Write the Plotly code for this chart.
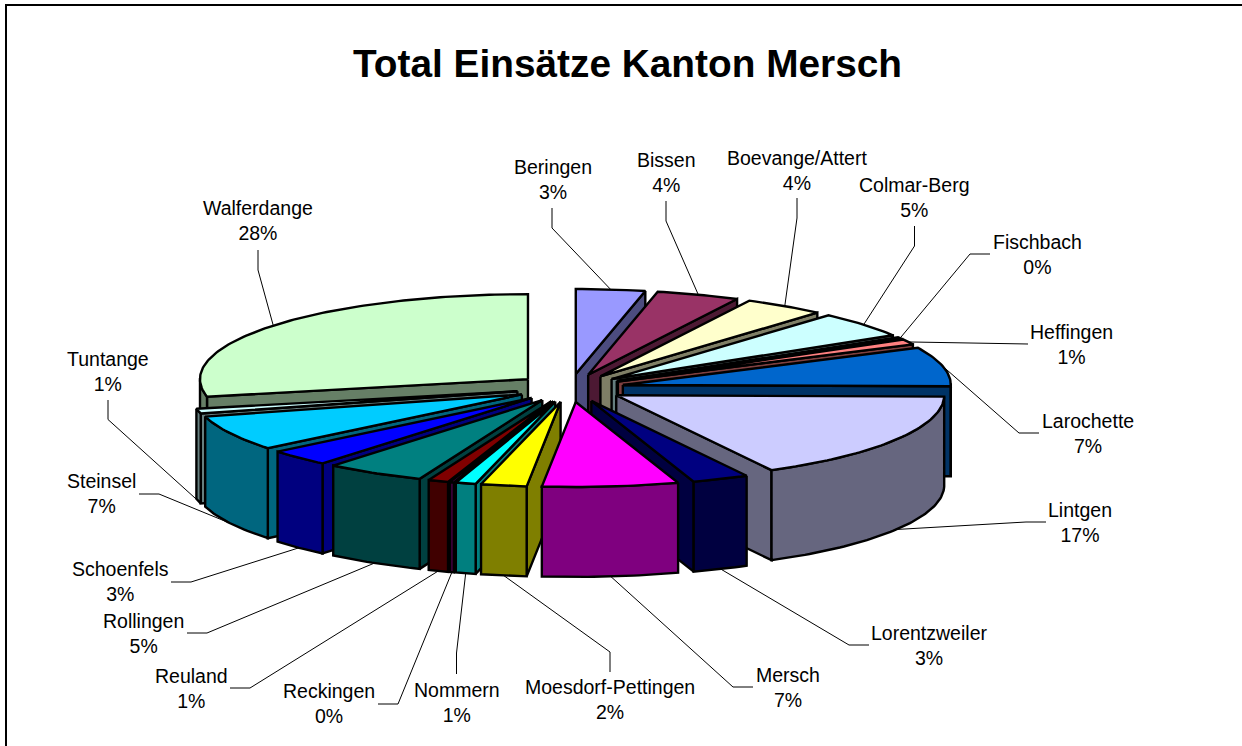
import numpy as np
import plotly.graph_objects as go

names = ["Beringen","Bissen","Boevange/Attert","Colmar-Berg","Fischbach","Heffingen","Larochette","Lintgen",
         "Lorentzweiler","Mersch","Moesdorf-Pettingen","Nommern","Reckingen","Reuland","Rollingen","Schoenfels",
         "Steinsel","Tuntange","Walferdange"]
values = [3.4,4.1,4.0,4.9,0.4,1.0,7.45,16.9,2.8,6.7,2.25,1.0,0.2,1.0,4.9,3.1,6.7,0.9,28.3]
colors = ["#9999FF","#993366","#FFFFCC","#CCFFFF","#660066","#FF8080","#0066CC","#CCCCFF","#000080","#FF00FF",
          "#FFFF00","#00FFFF","#800080","#800000","#008080","#0000FF","#00CCFF","#CCFFFF","#CCFFCC"]
label_x = [552.5,666,796.5,914,1037,1071.5,1088,1079.5,929,787.5,609.5,456.5,329,191,143,120,101.5,108,257.5]
label_y = [179,172,170,197,254,344,433,522,645,687,699,702,703,688,633,581,493,371,220]
end_x = [552,666,797,914.5,990,1028,1039,1046,869,753,610,456.5,378,230,187,171,139,108,258]
end_y = [208,201,198,226,254,344,433,522,645,687,672,674,704,688,633,582,494,400,250]
elbow_x = [552,666,797,914.5,970,1008,1019,1026,849,733,610,456.5,398,250,207,191,159,108,258]
elbow_y = [228,221,218,246,254,344,433,522,645,687,652,653,704,688,633,582,494,419.5,270]

CX, CY, RX, RY, H, EXPL = 570, 388, 328, 85, 90, 0.165
TITLE = "Total Einsätze Kanton Mersch"

def darker(c):
    r, g, b = (int(c[i:i+2], 16) for i in (1, 3, 5))
    return f"rgb({r//2},{g//2},{b//2})"

fig = go.Figure()
def poly(xs, ys, fill):
    fig.add_trace(go.Scatter(x=list(xs)+[xs[0]], y=list(ys)+[ys[0]], mode="lines", fill="toself", fillcolor=fill,
                             line=dict(color="black", width=2.4), hoverinfo="skip", showlegend=False))

total = sum(values)
cum = np.cumsum([0]+values)/total*2*np.pi
mids = (cum[:-1]+cum[1:])/2
order = np.argsort(-np.cos(mids))
for i in order:
    a0, a1, m = cum[i], cum[i+1], mids[i]
    ax = CX+np.sin(m)*EXPL*RX
    ay = CY-np.cos(m)*EXPL*RY
    t = np.linspace(a0, a1, max(3, int((a1-a0)*60)))
    rx = ax+RX*np.sin(t)
    ry = ay-RY*np.cos(t)
    side = darker(colors[i])
    # only the cut faces that turn toward the viewer are drawn
    if np.sin(a0) < -1e-6:
        poly([ax, rx[0], rx[0], ax], [ay, ry[0], ry[0]+H, ay+H], side)
    if np.sin(a1) > 1e-6:
        poly([ax, rx[-1], rx[-1], ax], [ay, ry[-1], ry[-1]+H, ay+H], side)
    front = np.cos(t) < 0.02
    if front.any():
        fx, fy = rx[front], ry[front]
        poly(list(fx)+list(fx[::-1]), list(fy)+list(fy[::-1]+H), side)
    poly([ax]+list(rx), [ay]+list(ry), colors[i])

for i, n in enumerate(names):
    m = mids[i]
    sx = CX+np.sin(m)*(1+EXPL)*RX
    sy = CY-np.cos(m)*(1+EXPL)*RY+(H if np.cos(m) < 0 else 0)
    fig.add_trace(go.Scatter(x=[sx, elbow_x[i], end_x[i]], y=[sy, elbow_y[i], end_y[i]], mode="lines",
                             line=dict(color="black", width=1), hoverinfo="skip", showlegend=False))
    fig.add_annotation(x=label_x[i], y=label_y[i], text=f"{n}<br>{round(values[i]/total*100)}%", showarrow=False,
                       font=dict(family="Liberation Sans", size=19.5, color="black"), xanchor="center", yanchor="middle", align="center")

fig.add_trace(go.Scatter(x=[6, 6, 1242], y=[746, 5, 5], mode="lines", line=dict(color="black", width=2),
                         hoverinfo="skip", showlegend=False))
fig.add_annotation(x=627, y=63, text=f"<b>{TITLE}</b>", showarrow=False,
                   font=dict(family="Liberation Sans", size=38.8, color="black"), xanchor="center", yanchor="middle")
fig.update_layout(width=1242, height=746, margin=dict(l=0, r=0, t=0, b=0), paper_bgcolor="white", plot_bgcolor="white",
                  xaxis=dict(range=[0, 1242], visible=False, fixedrange=True),
                  yaxis=dict(range=[746, 0], visible=False, fixedrange=True))
fig.write_html("out.html", config=dict(displayModeBar=False),
               post_script="document.body.style.margin='0';document.body.style.overflow='hidden';")
